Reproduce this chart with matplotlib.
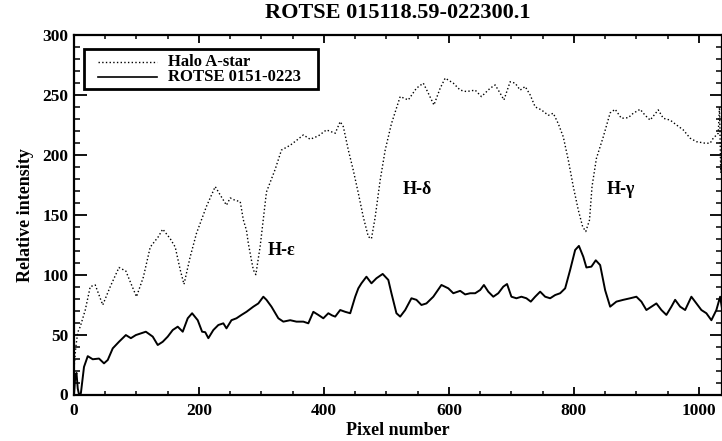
import matplotlib
matplotlib.use("Agg")
import matplotlib.pyplot as plt
from matplotlib.lines import Line2D
from matplotlib.patches import Rectangle
from matplotlib.ticker import MultipleLocator

# ---- data ----
halo_x = [0, 3, 6, 10, 18, 26, 34, 46, 58, 72, 83, 91, 100, 111, 122, 135, 142, 154,
          162, 170, 176, 186, 196, 212, 226, 234, 244, 250, 258, 266, 271, 276, 279,
          284, 287, 291, 298, 308, 322, 332, 346, 356, 367, 378, 391, 404, 418, 426,
          431, 439, 447, 455, 463, 471, 476, 482, 490, 498, 508, 522, 535, 548, 559,
          567, 576, 586, 594, 607, 618, 628, 642, 652, 666, 674, 682, 688, 698, 706,
          714, 722, 730, 738, 748, 759, 767, 775, 783, 791, 799, 807, 814, 819, 825,
          829, 836, 847, 858, 866, 876, 887, 895, 906, 914, 922, 935, 943, 954, 964,
          975, 986, 996, 1010, 1018, 1023, 1031, 1033, 1035, 1037]
halo_y = [22, 40, 52, 56.6, 70.5, 90, 91.4, 74.7, 90, 106, 103, 92.8, 81.6, 98, 123,
          131.7, 138, 130, 123, 104, 92, 115, 134.5, 157, 173.5, 166.5, 158, 164, 162,
          161, 145.7, 137, 126, 112, 104, 100, 124, 169, 188, 204, 208, 212, 216.6, 213,
          215.8, 220.8, 218, 227.7, 223.5, 204, 187, 168, 148, 131.7, 130, 148, 179, 204,
          226, 248.6, 245.8, 255.6, 259.8, 251.4, 241.6, 255.6, 264, 259.8, 254, 252.8,
          254, 248.6, 255.6, 258.3, 251.4, 245.8, 261, 259.8, 254, 257, 250, 240, 237.5,
          233, 234.7, 226, 215, 195.7, 173.5, 154, 140, 136, 145.7, 173.5, 197, 215, 235,
          238, 230.5, 231, 234.7, 238, 233, 229, 237.5, 230.5, 229, 225, 220.8, 213.9,
          211, 209.7, 209.7, 213.9, 218, 240, 185, 215]

rotse_x = [0, 2, 4, 6, 8, 11, 16, 22, 30, 40, 48, 54, 62, 72, 83, 91, 99, 107, 115, 126,
           134, 142, 150, 158, 166, 174, 182, 189, 198, 205, 210, 215, 223, 231, 239, 244,
           252, 260, 268, 276, 287, 295, 303, 308, 316, 327, 335, 346, 356, 367, 375, 383,
           391, 399, 407, 413, 418, 426, 434, 442, 450, 455, 460, 468, 476, 484, 494, 503,
           508, 516, 522, 530, 540, 548, 556, 564, 575, 588, 599, 607, 618, 626, 634, 642,
           650, 656, 663, 671, 679, 687, 693, 700, 708, 716, 724, 731, 738, 746, 754, 762,
           770, 778, 786, 794, 802, 808, 815, 820, 828, 835, 842, 850, 858, 868, 879, 890,
           900, 908, 916, 924, 932, 940, 948, 956, 962, 970, 978, 988, 996, 1004, 1012,
           1020, 1028, 1034, 1037]
rotse_y = [0, 15, 18, 5, 0, 1, 23, 32, 29.4, 30, 26, 28.8, 38.5, 44, 49.6, 47, 49.6, 51,
           52.4, 48.3, 41.3, 44, 48.3, 53.8, 56.6, 52.4, 63.6, 67.8, 62, 52.4, 52, 47,
           53.8, 58, 59.4, 55.2, 62, 63.6, 66.4, 69, 73.3, 76, 81.6, 79, 73.3, 63.6, 60.8,
           62, 60.8, 60.8, 59.4, 69, 66.4, 63.6, 67.8, 66, 65, 70.5, 69, 67.8, 81.6, 88.6,
           92.8, 98.3, 92.8, 97, 100.6, 95.6, 84.5, 67.8, 65, 70.5, 80.3, 79, 74.7, 76,
           81.6, 91.4, 88.6, 84.5, 86.5, 83.5, 84.5, 84.5, 87.2, 91.4, 85.8, 81.6, 84.5,
           90, 92.2, 81.6, 80.3, 81.6, 80.3, 77.5, 81.6, 85.8, 81.6, 80.3, 83, 84.5, 88.6,
           104, 120.6, 124, 115, 106, 106.7, 112, 108, 87, 73.3, 77.5, 79, 80.3, 81.6,
           77.5, 70.5, 73.3, 76, 70.5, 66.4, 73.3, 79, 73.3, 70.5, 81.6, 76, 70.5, 67.8,
           62, 70.5, 81.6, 72]

series_labels = ["Halo A-star", "ROTSE 0151-0223"]
line_labels = [("H-ε", 310, 120), ("H-δ", 526, 171), ("H-γ", 852, 171)]
title = "ROTSE 015118.59-022300.1"
xlabel = "Pixel number"
ylabel = "Relative intensity"

# ---- figure ----
W, H = 722, 441
fig = plt.figure(figsize=(W / 100, H / 100), dpi=100)
plt.rcParams['font.family'] = ['Liberation Serif', 'DejaVu Serif']
plt.rcParams['font.weight'] = 'bold'

L, R, B, T = 74, 722, 394.5, 35
ax = fig.add_axes([L / W, (H - B) / H, (R - L) / W, (B - T) / H])
ax.set_xlim(0, 1037)
ax.set_ylim(0, 300)

ax.plot(halo_x, halo_y, color='black', linestyle=':', linewidth=1.0)
ax.plot(rotse_x, rotse_y, color='black', linestyle='-', linewidth=1.4)

for s in ax.spines.values():
    s.set_linewidth(1.6)

ax.xaxis.set_major_locator(MultipleLocator(200))
ax.xaxis.set_minor_locator(MultipleLocator(50))
ax.yaxis.set_major_locator(MultipleLocator(50))
ax.yaxis.set_minor_locator(MultipleLocator(10))
ax.tick_params(axis='x', which='major', direction='in', length=5.5, width=1.3,
               top=True, bottom=True, labelsize=12.5, pad=6)
ax.tick_params(axis='x', which='minor', direction='in', length=2.8, width=1.1,
               top=True, bottom=True)
ax.tick_params(axis='y', which='major', direction='in', length=9, width=1.3,
               left=True, right=True, labelsize=12.5, pad=4)
ax.tick_params(axis='y', which='minor', direction='in', length=4.5, width=1.1,
               left=True, right=True)
for lab in ax.get_xticklabels() + ax.get_yticklabels():
    lab.set_fontweight('bold')

ax.set_xlabel(xlabel, fontsize=13, fontweight='bold', labelpad=2)
ax.set_ylabel(ylabel, fontsize=13, fontweight='bold', labelpad=6)
fig.text((L + R) / 2 / W, 1 - 13 / H, title, ha='center', va='center',
         fontsize=16, fontweight='bold')

for txt, xx, yy in line_labels:
    ax.text(xx, yy, txt, ha='left', va='center', fontsize=13, fontweight='bold')

# ---- legend (box, samples and labels placed in axes fraction) ----
def fx(px):
    return (px - L) / (R - L)

def fy(py):
    return (B - py) / (B - T)

ax.add_patch(Rectangle((fx(84), fy(89)), fx(318) - fx(84), fy(49) - fy(89),
                       transform=ax.transAxes, fill=True, facecolor='white',
                       edgecolor='black', linewidth=2.0, zorder=5))
styles = [':', '-']
widths = [1.0, 1.2]
rows = [61.5, 76.5]
for lab, ls, lw, py in zip(series_labels, styles, widths, rows):
    ax.add_line(Line2D([fx(98), fx(157)], [fy(py), fy(py)], transform=ax.transAxes,
                       color='black', linestyle=ls, linewidth=lw, zorder=6))
    ax.text(fx(168), fy(py + 0.5), lab, transform=ax.transAxes, ha='left', va='center',
            fontsize=12, fontweight='bold', zorder=6)

fig.savefig("out.png", dpi=100)
